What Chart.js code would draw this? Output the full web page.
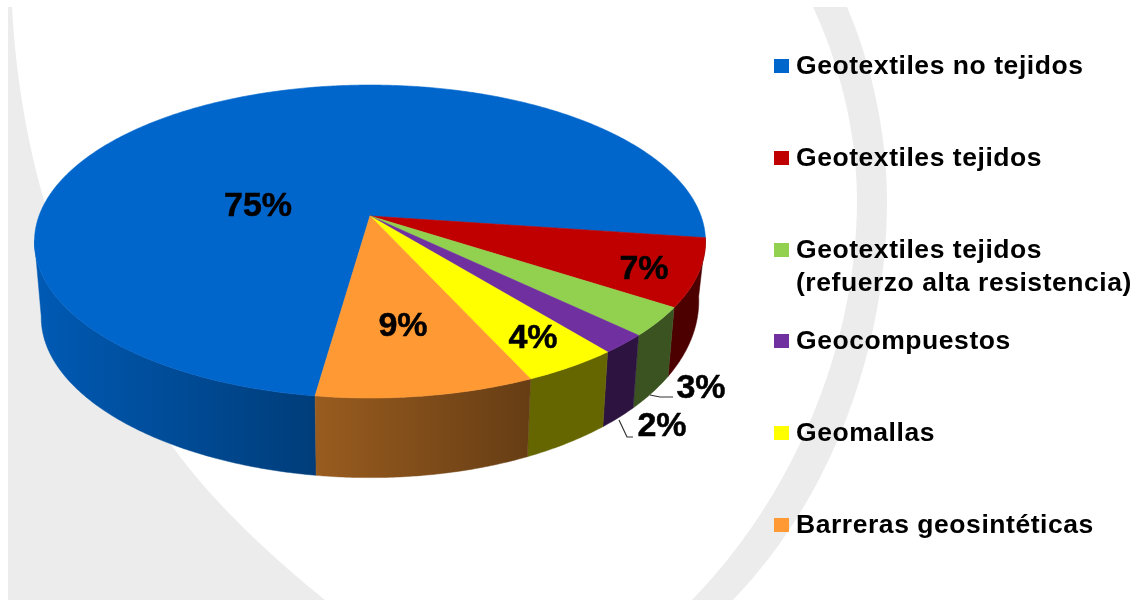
<!DOCTYPE html>
<html lang="es">
<head>
<meta charset="utf-8">
<style>html,body{margin:0;padding:0;background:#fff}canvas{display:block}</style>
<script src="https://cdn.jsdelivr.net/npm/chart.js@4"></script>
</head>
<body>
<canvas id="c" width="1137" height="600"></canvas>
<script>
const categories = ['Geotextiles no tejidos','Geotextiles tejidos','Geotextiles tejidos (refuerzo alta resistencia)','Geocompuestos','Geomallas','Barreras geosintéticas'];
const legendLines = [['Geotextiles no tejidos'],['Geotextiles tejidos'],['Geotextiles tejidos','(refuerzo alta resistencia)'],['Geocompuestos'],['Geomallas'],['Barreras geosintéticas']];
const shares = [75,7,3,2,4,9];
const colors = ['#0066cc','#c00000','#92d050','#7030a0','#ffff00','#ff9933'];
const wallShadeStart = [0.88,0.4,0.4,0.4,0.4,0.6];
const wallShadeEnd = [0.6,0.4,0.4,0.4,0.4,0.4];

// Perspective projection of the unit disc on the picture.
const P = {cx:370, a:117.1, b:216, c:-0.163, d:331};
function top3d(ang){
  const u=Math.cos(ang), v=Math.sin(ang), w=1+P.c*v;
  return [P.cx+P.d*u/w, (P.a*v+P.b)/w];
}
function bottom3d(ang){
  const p=top3d(ang), u=Math.cos(ang), v=Math.sin(ang);
  return [P.cx+0.98*(p[0]-P.cx), 1.077*p[1]+49-10*u*(1-v)];
}
function shade(hex,k){
  const n=parseInt(hex.slice(1),16);
  return 'rgb('+[(n>>16)&255,(n>>8)&255,n&255].map(x=>Math.round(x*k)).join(',')+')';
}
function samples(s,e){
  const out=[], n=Math.max(2,Math.ceil((e-s)/(Math.PI/360)));
  for(let i=0;i<=n;i++) out.push(s+(e-s)*i/n);
  return out;
}
const TWO_PI=Math.PI*2, WALL_MAX=171*Math.PI/180;

const pie3d = {
  id:'pie3d',
  beforeDraw(chart){
    const ctx=chart.ctx;
    ctx.save();
    ctx.fillStyle='#ececec';
    ctx.beginPath();
    ctx.moveTo(8,7); ctx.lineTo(12,7);
    ctx.bezierCurveTo(16,80,28,145,44,200);
    ctx.bezierCurveTo(75,300,120,380,172,446);
    ctx.bezierCurveTo(215,505,270,555,325,600);
    ctx.lineTo(8,600); ctx.closePath(); ctx.fill();
    ctx.beginPath();
    ctx.moveTo(813,7);
    ctx.bezierCurveTo(838,60,857,130,857,200);
    ctx.bezierCurveTo(857,350,790,500,692,600);
    ctx.lineTo(733,600);
    ctx.bezierCurveTo(830,500,887,350,887,200);
    ctx.bezierCurveTo(887,130,870,60,847,7);
    ctx.closePath(); ctx.fill();
    ctx.restore();
  },
  beforeDatasetsDraw(chart){
    const ctx=chart.ctx, arcs=chart.getDatasetMeta(0).data;
    ctx.save();
    ctx.lineJoin='round';
    arcs.forEach((arc,i)=>{
      let s=arc.startAngle, e=arc.endAngle;
      if(s>=TWO_PI){s-=TWO_PI;e-=TWO_PI;}
      const hi=Math.min(e,WALL_MAX);
      if(hi<=s) return;
      const angs=samples(s,hi), topPts=angs.map(top3d), botPts=angs.map(bottom3d);
      const base=arc.options.backgroundColor;
      const x0=topPts[0][0], x1=topPts[topPts.length-1][0];
      const g=ctx.createLinearGradient(Math.max(x0,x1),0,Math.min(x0,x1),0);
      g.addColorStop(0,shade(base,wallShadeEnd[i]));
      g.addColorStop(1,shade(base,wallShadeStart[i]));
      ctx.beginPath();
      topPts.forEach((p,k)=>k?ctx.lineTo(p[0],p[1]):ctx.moveTo(p[0],p[1]));
      botPts.reverse().forEach(p=>ctx.lineTo(p[0],p[1]));
      ctx.closePath();
      ctx.fillStyle=g; ctx.strokeStyle=g; ctx.lineWidth=0.5;
      ctx.fill(); ctx.stroke();
    });
    arcs.forEach(arc=>{
      const angs=samples(arc.startAngle,arc.endAngle);
      ctx.beginPath();
      ctx.moveTo(P.cx,P.b);
      angs.forEach(a=>{const p=top3d(a);ctx.lineTo(p[0],p[1]);});
      ctx.closePath();
      ctx.fillStyle=arc.options.backgroundColor;
      ctx.strokeStyle=arc.options.backgroundColor;
      ctx.lineWidth=0.6;
      ctx.fill(); ctx.stroke();
    });
    ctx.restore();
    return false;
  },
  afterDraw(chart){
    const ctx=chart.ctx;
    ctx.save();
    ctx.strokeStyle='#333'; ctx.lineWidth=1.2;
    ctx.beginPath();
    ctx.moveTo(650,395);ctx.lineTo(660,397);ctx.lineTo(673,397);
    ctx.moveTo(619,420);ctx.lineTo(627,437);ctx.lineTo(633,437);
    ctx.stroke();
    ctx.filter='blur(0.5px)';
    const spots=[[258,207],[644,270],[701,389],[662,427],[533,339],[403,327]];
    ctx.fillStyle='#000'; ctx.strokeStyle='#000'; ctx.lineWidth=0.5;
    ctx.font='bold 34px "Liberation Sans", Arial, sans-serif';
    ctx.textAlign='center'; ctx.textBaseline='middle';
    shares.forEach((v,i)=>{
      ctx.fillText(v+'%',spots[i][0],spots[i][1]);
      ctx.strokeText(v+'%',spots[i][0],spots[i][1]);
    });
    const rows=[74,166,258,349,441,533];
    ctx.textAlign='left'; ctx.textBaseline='alphabetic';
    ctx.font='bold 26.5px "Liberation Sans", Arial, sans-serif';
    ctx.letterSpacing='0.55px';
    legendLines.forEach((lines,i)=>{
      ctx.fillStyle=colors[i];
      ctx.fillRect(774,rows[i]-15,15,14);
      ctx.fillStyle='#000';
      lines.forEach((t,k)=>ctx.fillText(t,796,rows[i]+k*33));
    });
    ctx.restore();
  }
};

new Chart(document.getElementById('c'),{
  type:'pie',
  data:{labels:categories,datasets:[{data:shares,backgroundColor:colors,borderWidth:0}]},
  options:{
    responsive:false,animation:false,
    rotation:188,
    plugins:{legend:{display:false},tooltip:{enabled:false},title:{display:false}}
  },
  plugins:[pie3d]
});
</script>
</body>
</html>
